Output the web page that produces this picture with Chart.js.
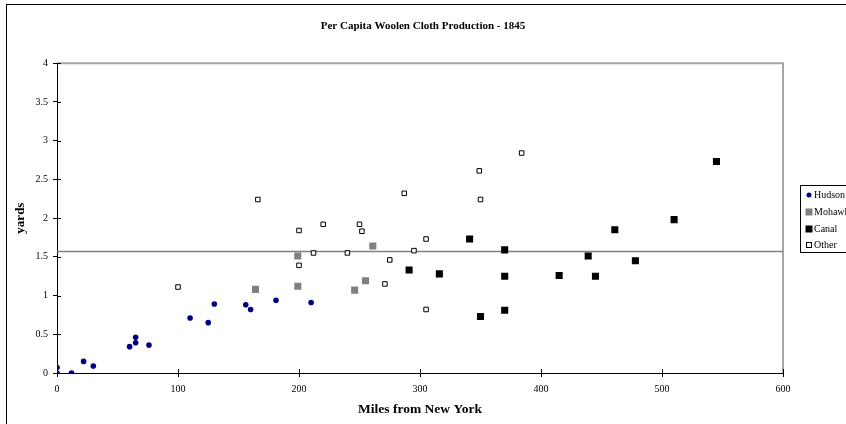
<!DOCTYPE html>
<html>
<head>
<meta charset="utf-8">
<script src="https://cdn.jsdelivr.net/npm/chart.js@4.4.1/dist/chart.umd.min.js"></script>
<style>
    body { margin: 0; background: #ffffff; }
    canvas { display: block; }
</style>
</head>
<body>
<canvas id="woolChart" width="846" height="424"></canvas>
<script>
// Miles from New York (x) and per capita yards (y) for each group of counties
const hudsonMiles = [0, 0, 12, 22, 30, 60, 65, 65, 76, 110, 125, 130, 156, 160, 181, 210];
const hudsonYards = [0.0, 0.07, 0.0, 0.15, 0.09, 0.34, 0.46, 0.39, 0.36, 0.71, 0.65, 0.89, 0.88, 0.82, 0.94, 0.91];

const mohawkMiles = [164, 199, 199, 246, 255, 261];
const mohawkYards = [1.08, 1.51, 1.12, 1.07, 1.19, 1.64];

const canalMiles = [291, 316, 341, 350, 370, 370, 370, 415, 439, 445, 461, 478, 510, 545];
const canalYards = [1.33, 1.28, 1.73, 0.73, 1.59, 1.25, 0.81, 1.26, 1.51, 1.25, 1.85, 1.45, 1.98, 2.73];

const otherMiles = [100, 166, 200, 200, 212, 220, 240, 250, 252, 271, 275, 287, 295, 305, 305, 349, 350, 384];
const otherYards = [1.11, 2.24, 1.84, 1.39, 1.55, 1.92, 1.55, 1.92, 1.83, 1.15, 1.46, 2.32, 1.58, 1.73, 0.82, 2.61, 2.24, 2.84];

// overall average, drawn as a flat line across the plot
const averageYards = 1.57;

const xTicks = [0, 100, 200, 300, 400, 500, 600];
const yTicks = [0, 0.5, 1, 1.5, 2, 2.5, 3, 3.5, 4];

const serif = "'Liberation Serif', 'Times New Roman', serif";

const toPoints = (xs, ys) => xs.map((x, i) => ({ x: x, y: ys[i] }));

// Outer chart frame, plot border, crossing tick marks and the legend box
const excelLook = {
    id: "excelLook",
    beforeDraw(chart) {
        const ctx = chart.ctx;
        ctx.save();
        ctx.fillStyle = "#ffffff";
        ctx.fillRect(0, 0, chart.width, chart.height);
        ctx.strokeStyle = "#000000";
        ctx.lineWidth = 1;
        ctx.strokeRect(6.5, 4.5, 2000, 2000);
        ctx.restore();
    },
    beforeDatasetsDraw(chart) {
        const { ctx, chartArea: a, scales } = chart;
        ctx.save();
        // grey plot area border on top and right
        ctx.strokeStyle = "#a6a6a6";
        ctx.lineWidth = 2;
        ctx.beginPath();
        ctx.moveTo(a.left, a.top);
        ctx.lineTo(a.right, a.top);
        ctx.lineTo(a.right, a.bottom);
        ctx.stroke();
        // inner half of the crossing tick marks
        ctx.strokeStyle = "#000000";
        ctx.lineWidth = 1;
        ctx.beginPath();
        yTicks.forEach((v) => {
            const y = Math.round(scales.y.getPixelForValue(v)) + 0.5;
            ctx.moveTo(a.left, y);
            ctx.lineTo(a.left + 4, y);
        });
        xTicks.forEach((v) => {
            const x = Math.round(scales.x.getPixelForValue(v)) + 0.5;
            ctx.moveTo(x, a.bottom);
            ctx.lineTo(x, a.bottom - 4);
        });
        ctx.stroke();
        ctx.restore();
    },
    afterDraw(chart) {
        const ctx = chart.ctx;
        ctx.save();
        ctx.strokeStyle = "#000000";
        ctx.lineWidth = 1;
        ctx.strokeRect(800.5, 185.5, 200, 67);
        ctx.font = "10px " + serif;
        ctx.textBaseline = "middle";
        ctx.textAlign = "left";
        const rows = [195, 212, 229, 245];
        chart.data.datasets.forEach((ds, i) => {
            if (ds.type === "line") return;
            const y = rows[i];
            const x = 809;
            if (ds.pointStyle === "circle") {
                ctx.fillStyle = ds.backgroundColor;
                ctx.beginPath();
                ctx.arc(x, y, 2.5, 0, Math.PI * 2);
                ctx.fill();
            } else if (ds.hollow) {
                ctx.fillStyle = "#ffffff";
                ctx.fillRect(x - 2.5, y - 2.5, 5, 5);
                ctx.strokeStyle = "#000000";
                ctx.strokeRect(x - 2.5, y - 2.5, 5, 5);
            } else {
                ctx.fillStyle = ds.backgroundColor;
                ctx.fillRect(x - 3.5, y - 3.5, 7, 7);
            }
            ctx.fillStyle = "#000000";
            ctx.fillText(ds.label, 814, y + 0.5);
        });
        ctx.restore();
    },
};

new Chart(document.getElementById("woolChart").getContext("2d"), {
    type: "scatter",
    data: {
        datasets: [
            {
                label: "Hudson",
                data: toPoints(hudsonMiles, hudsonYards),
                pointStyle: "circle",
                backgroundColor: "#000080",
                borderColor: "#000080",
                borderWidth: 0,
                pointRadius: 2.8,
            },
            {
                label: "Mohawk",
                data: toPoints(mohawkMiles, mohawkYards),
                pointStyle: "rect",
                backgroundColor: "#808080",
                borderColor: "#808080",
                borderWidth: 0,
                pointRadius: 5,
            },
            {
                label: "Canal",
                data: toPoints(canalMiles, canalYards),
                pointStyle: "rect",
                backgroundColor: "#000000",
                borderColor: "#000000",
                borderWidth: 0,
                pointRadius: 5,
            },
            {
                label: "Other",
                data: toPoints(otherMiles, otherYards),
                pointStyle: "rect",
                hollow: true,
                backgroundColor: "#ffffff",
                borderColor: "#000000",
                borderWidth: 1,
                pointRadius: 3.2,
            },
            {
                type: "line",
                label: "Average",
                data: [{ x: xTicks[0], y: averageYards }, { x: xTicks[xTicks.length - 1], y: averageYards }],
                borderColor: "#808080",
                borderWidth: 1.5,
                pointRadius: 0,
                fill: false,
            },
        ],
    },
    options: {
        responsive: false,
        animation: false,
        layout: { padding: 0 },
        plugins: {
            legend: { display: false },
            tooltip: { enabled: false },
            title: {
                display: true,
                text: "Per Capita Woolen Cloth Production - 1845",
                color: "#000000",
                font: { family: serif, size: 11, weight: "bold" },
                padding: { top: 20, bottom: 30 },
            },
        },
        scales: {
            x: {
                type: "linear",
                min: 0,
                max: 600,
                afterBuildTicks: (scale) => { scale.ticks = xTicks.map((v) => ({ value: v })); },
                afterFit: (scale) => { scale.height = 51; },
                grid: { drawOnChartArea: false, drawTicks: true, tickLength: 4, color: "#000000" },
                border: { color: "#000000", width: 1 },
                ticks: {
                    color: "#000000",
                    font: { family: serif, size: 10 },
                    padding: 6,
                    maxRotation: 0,
                    callback: (v) => String(v),
                },
                title: {
                    display: true,
                    text: "Miles from New York",
                    color: "#000000",
                    font: { family: serif, size: 13.5, weight: "bold" },
                    padding: { top: 0, bottom: 6 },
                },
            },
            y: {
                type: "linear",
                min: 0,
                max: 4,
                afterBuildTicks: (scale) => { scale.ticks = yTicks.map((v) => ({ value: v })); },
                afterFit: (scale) => { scale.width = 57; },
                grid: { drawOnChartArea: false, drawTicks: true, tickLength: 4, color: "#000000" },
                border: { color: "#000000", width: 1 },
                ticks: {
                    color: "#000000",
                    font: { family: serif, size: 10 },
                    padding: 5,
                    callback: (v) => String(v),
                },
                title: {
                    display: true,
                    text: "yards",
                    color: "#000000",
                    font: { family: serif, size: 13, weight: "bold" },
                    padding: { top: 13, bottom: 0 },
                },
            },
            // empty right-hand axis that only reserves room for the legend
            spacer: {
                type: "linear",
                position: "right",
                display: true,
                grid: { display: false, drawTicks: false },
                border: { display: false },
                ticks: { display: false },
                afterFit: (scale) => { scale.width = 63; },
            },
        },
    },
    plugins: [excelLook],
});
</script>
</body>
</html>
